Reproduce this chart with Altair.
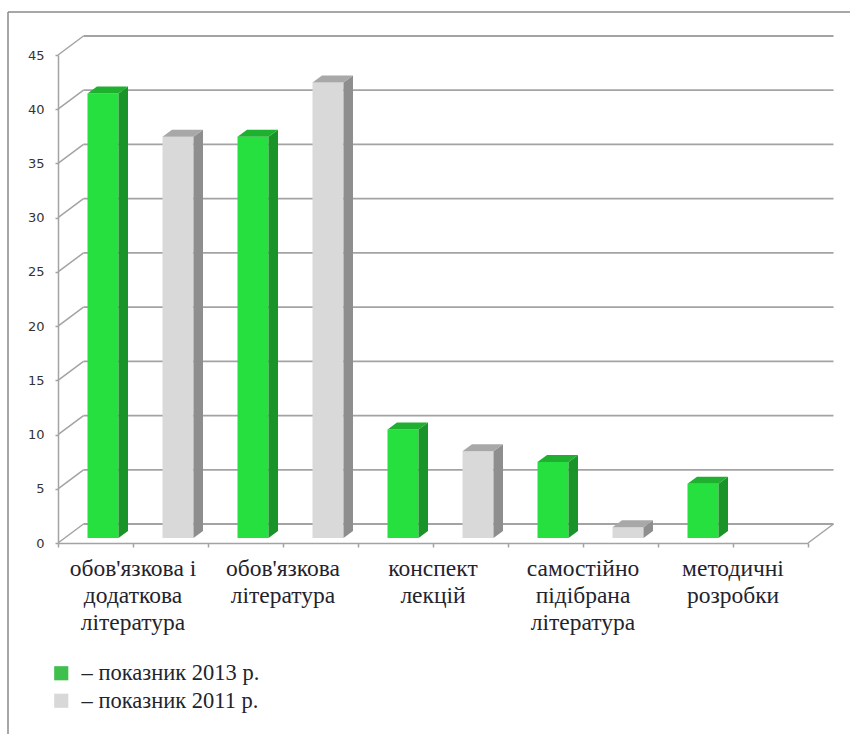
import altair as alt
import pandas as pd

# ---- data ----
categories = [
    "обов'язкова і\nдодаткова\nлітература",
    "обов'язкова\nлітература",
    "конспект\nлекцій",
    "самостійно\nпідібрана\nлітература",
    "методичні\nрозробки",
]
v2013 = [41, 37, 10, 7, 5]
v2011 = [37, 42, 8, 1, 0]
series = ["2013", "2011"]
legend_labels = ["– показник 2013 р.", "– показник 2011 р."]
y_levels = [0, 5, 10, 15, 20, 25, 30, 35, 40, 45]

# ---- geometry / style constants ----
W, H = 750, 488
XMAX, YMAX = 10, 45
PX_X = W / XMAX
PX_Y = H / YMAX
FRONT_LEFT, FRONT_W = 29.5, 31.0
DEPTH_X, DEPTH_Y = 9.5, 7.0
LIFT = 5.0
WALL_DX, WALL_DY = 25.5, -19

colors = {
    "2013": {"front": "#26e040", "side": "#1a9428", "top": "#1fb02f"},
    "2011": {"front": "#d9d9d9", "side": "#8e8e8e", "top": "#a8a8a8"},
}
legend_colors = ["#3fbf4c", "#d8d8d8"]
GRID = "#a3a3a3"
TEXT = "#23232e"

# ---- derived tables ----
front_rows, side_rows, top_rows = [], [], []
lift = LIFT / PX_Y
dx = DEPTH_X / PX_X
dy = DEPTH_Y / PX_Y
for k, cat in enumerate(categories):
    for j, (s, vals) in enumerate(zip(series, [v2013, v2011])):
        v = vals[k]
        if v <= 0:
            continue
        slot = 2 * k + j
        xl = slot + FRONT_LEFT / PX_X
        xr = slot + (FRONT_LEFT + FRONT_W) / PX_X
        bid = f"{k}-{s}"
        top = v + lift
        front_rows.append(dict(id=bid, x=xl, x2=xr, y=top, y2=lift, fill=colors[s]["front"]))
        side_rows += [
            dict(id=bid, x=xr, y=top, y2=lift, fill=colors[s]["side"]),
            dict(id=bid, x=xr + dx, y=top + dy, y2=lift + dy, fill=colors[s]["side"]),
        ]
        top_rows += [
            dict(id=bid, x=xl, y=top, y2=top, fill=colors[s]["top"]),
            dict(id=bid, x=xl + dx, y=top + dy, y2=top, fill=colors[s]["top"]),
            dict(id=bid, x=xr, y=top + dy, y2=top, fill=colors[s]["top"]),
            dict(id=bid, x=xr + dx, y=top + dy, y2=top + dy, fill=colors[s]["top"]),
        ]

front_df = pd.DataFrame(front_rows)
side_df = pd.DataFrame(side_rows)
top_df = pd.DataFrame(top_rows)
levels_df = pd.DataFrame({"level": y_levels})
labels_df = pd.DataFrame({"label": categories, "pos": [2 * k + 1 for k in range(len(categories))]})
legend_df = pd.DataFrame({"series": series})

xs = alt.Scale(domain=[0, XMAX], nice=False, zero=False)
ys = alt.Scale(domain=[0, YMAX], nice=False)

# axes (front edges)
axes = alt.Chart(levels_df).mark_rule(opacity=0).encode(
    x=alt.X("level:Q", scale=xs, axis=alt.Axis(
        values=list(range(XMAX + 1)), labels=False, title=None, grid=False,
        domainColor=GRID, domainWidth=1.5, tickColor=GRID, tickWidth=1.5, tickSize=4)),
    y=alt.Y("level:Q", scale=ys, axis=alt.Axis(
        values=y_levels, title=None, grid=False, domainColor=GRID, domainWidth=1.5,
        tickColor=GRID, tickWidth=1.5, tickSize=3, labelPadding=11,
        labelFont="DejaVu Sans", labelFontSize=13, labelColor="#333333")),
)

# back-wall gridlines
back_grid = alt.Chart(levels_df).mark_rule(
    color=GRID, strokeWidth=1.8, xOffset=WALL_DX, x2Offset=WALL_DX, yOffset=WALL_DY
).encode(x=alt.datum(0, scale=xs), x2=alt.datum(XMAX), y=alt.Y("level:Q", scale=ys))

# side-wall diagonals
side_grid = alt.Chart(levels_df).mark_rule(
    color=GRID, strokeWidth=1.5, x2Offset=WALL_DX, y2Offset=WALL_DY
).encode(x=alt.datum(0, scale=xs), x2=alt.datum(0), y=alt.Y("level:Q", scale=ys), y2="level:Q")

# floor right diagonal
floor_diag = alt.Chart(levels_df.head(1)).mark_rule(
    color=GRID, strokeWidth=1.5, x2Offset=WALL_DX, y2Offset=WALL_DY
).encode(x=alt.datum(XMAX, scale=xs), x2=alt.datum(XMAX), y=alt.datum(0, scale=ys), y2=alt.datum(0))

# bars
front = alt.Chart(front_df).mark_rect().encode(
    x=alt.X("x:Q", scale=xs), x2="x2:Q", y=alt.Y("y:Q", scale=ys), y2="y2:Q",
    color=alt.Color("fill:N", scale=None),
)
side = alt.Chart(side_df).mark_area(interpolate="linear").encode(
    x=alt.X("x:Q", scale=xs), y=alt.Y("y:Q", scale=ys), y2="y2:Q",
    detail="id:N", color=alt.Color("fill:N", scale=None),
)
topf = alt.Chart(top_df).mark_area(interpolate="linear").encode(
    x=alt.X("x:Q", scale=xs), y=alt.Y("y:Q", scale=ys), y2="y2:Q",
    detail="id:N", color=alt.Color("fill:N", scale=None),
)

# category labels
cat_text = alt.Chart(labels_df).mark_text(
    baseline="alphabetic", align="center", dy=33, lineBreak="\n", lineHeight=27,
    font="Liberation Serif", fontSize=23.5, color=TEXT,
).encode(x=alt.X("pos:Q", scale=xs), y=alt.datum(0, scale=ys), text="label:N")

# legend
legend_expr = "datum.value == '2013' ? '%s' : '%s'" % (legend_labels[0], legend_labels[1])
legend_layer = alt.Chart(legend_df).mark_square(opacity=0).encode(
    x=alt.datum(0, scale=xs), y=alt.datum(0, scale=ys),
    color=alt.Color("series:N", scale=alt.Scale(domain=series, range=legend_colors),
                    sort=series,
                    legend=alt.Legend(
                        orient="none", legendX=-8, legendY=607, title=None,
                        symbolType="square", symbolSize=200, symbolOpacity=1,
                        symbolStrokeWidth=0, labelFont="Liberation Serif", labelFontSize=22.5,
                        labelColor=TEXT, labelLimit=400, labelOffset=9,
                        rowPadding=4.5, padding=0, labelExpr=legend_expr)),
)

# outer frame
frame_left = alt.Chart(levels_df.head(1)).mark_rule(color="#8a8a8a", strokeWidth=1.5).encode(
    x=alt.value(-50), y=alt.value(-43), y2=alt.value(690))
frame_top = alt.Chart(levels_df.head(1)).mark_rule(color="#8a8a8a", strokeWidth=1.5).encode(
    x=alt.value(-50), x2=alt.value(800), y=alt.value(-43))

chart = alt.layer(
    frame_left, frame_top, back_grid, side_grid, floor_diag, axes,
    front, side, topf, cat_text, legend_layer,
).resolve_scale(color="independent").properties(
    width=W, height=H,
    autosize=alt.AutoSizeParams(type="none"),
    padding={"left": 58, "top": 55, "right": 42, "bottom": 191},
    background="white",
).configure_view(stroke=None)

chart.save("out.html", embed_options={"renderer": "svg", "actions": False})
